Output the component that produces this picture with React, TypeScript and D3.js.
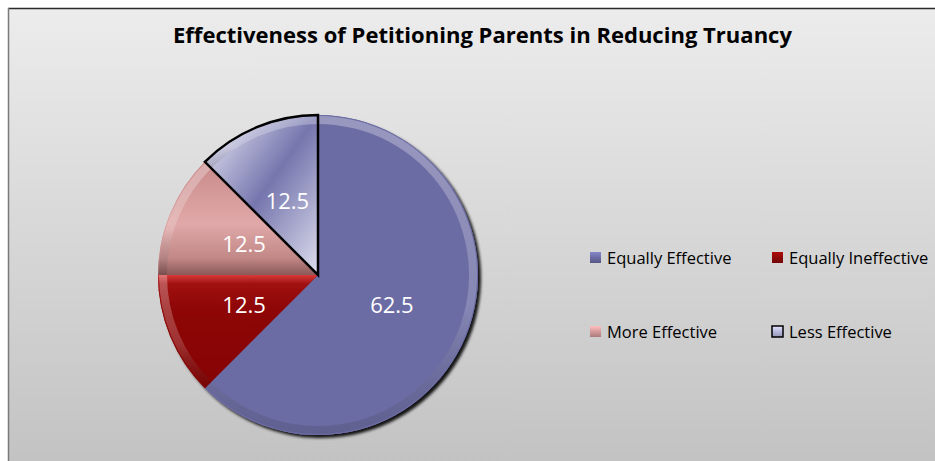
import React from "react";
import * as d3 from "d3";

const TITLE = "Effectiveness of Petitioning Parents in Reducing Truancy";
const categories = ["Equally Effective", "Equally Ineffective", "More Effective", "Less Effective"];
const values = [62.5, 12.5, 12.5, 12.5];
const baseColors = ["#6c6ca4", "#8e0a0a", "#d49a9a", "#b8b8dc"];

const W = 935;
const H = 461;
const CX = 318;
const CY = 275;
const R = 160;

type Slice = d3.PieArcDatum<number>;

export default function App() {
  const pie = d3
    .pie<number>()
    .sort(null)
    .startAngle(0)
    .endAngle(2 * Math.PI)
    .value((d) => d);
  const slices: Slice[] = pie(values);
  const arc = d3.arc<Slice>().innerRadius(0).outerRadius(R);
  const rim = d3.arc<Slice>().innerRadius(R - 9).outerRadius(R - 1);

  const legendPos = [
    { x: 590, y: 252 },
    { x: 772, y: 252 },
    { x: 590, y: 326 },
    { x: 772, y: 326 },
  ];

  return (
    <svg
      width={W}
      height={H}
      style={{ position: "absolute", left: 0, top: 0, fontFamily: "'Open Sans', sans-serif" }}
    >
      <defs>
        <linearGradient id="bg" x1="0" y1="0" x2="0" y2="1">
          <stop offset="0" stopColor="#ececec" />
          <stop offset="1" stopColor="#c2c2c2" />
        </linearGradient>
        <linearGradient id="lessFill" x1="0" y1="0" x2="1" y2="1">
          <stop offset="0" stopColor="#ededf8" />
          <stop offset="0.5" stopColor="#7676ae" />
          <stop offset="1" stopColor="#dedeee" />
        </linearGradient>
        <linearGradient id="moreFill" x1="0" y1="0" x2="0" y2="1">
          <stop offset="0" stopColor="#c98a8a" />
          <stop offset="0.55" stopColor="#e0a8a8" />
          <stop offset="0.85" stopColor="#c28888" />
          <stop offset="1" stopColor="#8a5858" />
        </linearGradient>
        <linearGradient id="redFill" x1="0" y1="0" x2="0" y2="1">
          <stop offset="0" stopColor="#d83a3a" />
          <stop offset="0.08" stopColor="#a01010" />
          <stop offset="0.3" stopColor="#8e0606" />
          <stop offset="1" stopColor="#860404" />
        </linearGradient>
        <linearGradient id="rimShade" x1="0" y1="0" x2="0" y2="1">
          <stop offset="0" stopColor="#ffffff" stopOpacity="0.3" />
          <stop offset="0.6" stopColor="#ffffff" stopOpacity="0.18" />
          <stop offset="1" stopColor="#000000" stopOpacity="0.12" />
        </linearGradient>
        <filter id="pieShadow" x="-10%" y="-10%" width="125%" height="125%">
          <feDropShadow dx="3" dy="3" stdDeviation="1.5" floodColor="#000" floodOpacity="0.9" />
        </filter>
        {baseColors.map((c, i) => (
          <linearGradient key={i} id={`leg${i}`} x1="0" y1="0" x2="0" y2="1">
            <stop offset="0" stopColor={d3.color(c)!.brighter(0.6).formatHex()} />
            <stop offset="0.5" stopColor={c} />
            <stop offset="1" stopColor={d3.color(c)!.darker(0.6).formatHex()} />
          </linearGradient>
        ))}
      </defs>

      <rect x={8} y={8} width={W} height={H} fill="url(#bg)" />
      <line x1={8} y1={8.5} x2={W} y2={8.5} stroke="#2a2a2a" strokeWidth={1.5} />
      <line x1={8.5} y1={8} x2={8.5} y2={H} stroke="#7a7a7a" strokeWidth={1.5} />

      <text
        x={482.5}
        y={43}
        textAnchor="middle"
        fontSize={21}
        fontWeight="bold"
        textLength={619}
        lengthAdjust="spacingAndGlyphs"
        fill="#000"
      >
        {TITLE}
      </text>

      <g transform={`translate(${CX},${CY})`}>
        <g filter="url(#pieShadow)">
          {slices.map((s, i) => (
            <path key={i} d={arc(s)!} fill={baseColors[i]} />
          ))}
        </g>
        {slices.map((s, i) => {
          const fill =
            i === 3 ? "url(#lessFill)" : i === 2 ? "url(#moreFill)" : i === 1 ? "url(#redFill)" : baseColors[i];
          return (
            <g key={i}>
              <path d={arc(s)!} fill={fill} />
              <path d={rim(s)!} fill="url(#rimShade)" />
            </g>
          );
        })}
        {/* Less Effective is outlined in black */}
        <path d={arc(slices[3])!} fill="none" stroke="#000" strokeWidth={2.5} strokeLinejoin="miter" />
        {slices.map((s, i) => {
          const [lx, ly] = arc.centroid(s);
          return (
            <text
              key={i}
              x={lx}
              y={ly}
              dy="0.35em"
              textAnchor="middle"
              fontSize={22}
              fill="#ffffff"
            >
              {values[i]}
            </text>
          );
        })}
      </g>

      <g>
        {categories.map((c, i) => (
          <g key={c} transform={`translate(${legendPos[i].x},${legendPos[i].y})`}>
            <rect
              x={0}
              y={0}
              width={11}
              height={11}
              fill={`url(#leg${i})`}
              stroke={i === 3 ? "#000" : "none"}
              strokeWidth={i === 3 ? 1.5 : 0}
            />
            <text x={17} y={12} fontSize={16.5} fill="#000">
              {c}
            </text>
          </g>
        ))}
      </g>
    </svg>
  );
}
